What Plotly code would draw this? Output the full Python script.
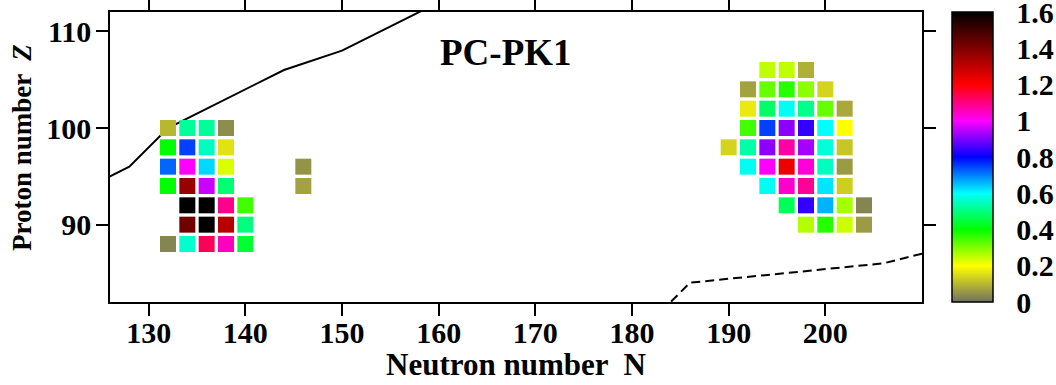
import plotly.graph_objects as go

# ---- data ----
nucl_N = [
    132, 134, 136, 138,
    132, 134, 136, 138,
    132, 134, 136, 138,
    132, 134, 136, 138,
    134, 136, 138, 140,
    134, 136, 138, 140,
    132, 134, 136, 138, 140,
    146, 146,
    194, 196, 198,
    192, 194, 196, 198, 200,
    192, 194, 196, 198, 200, 202,
    192, 194, 196, 198, 200, 202,
    190, 192, 194, 196, 198, 200, 202,
    192, 194, 196, 198, 200, 202,
    194, 196, 198, 200, 202,
    196, 198, 200, 202, 204,
    198, 200, 202, 204,
]
nucl_Z = [
    100, 100, 100, 100,
    98, 98, 98, 98,
    96, 96, 96, 96,
    94, 94, 94, 94,
    92, 92, 92, 92,
    90, 90, 90, 90,
    88, 88, 88, 88, 88,
    96, 94,
    106, 106, 106,
    104, 104, 104, 104, 104,
    102, 102, 102, 102, 102, 102,
    100, 100, 100, 100, 100, 100,
    98, 98, 98, 98, 98, 98, 98,
    96, 96, 96, 96, 96, 96,
    94, 94, 94, 94, 94,
    92, 92, 92, 92, 92,
    90, 90, 90, 90,
]
beta_val = [
    0.10, 0.52, 0.52, 0.04,
    0.40, 0.75, 0.55, 0.16,
    0.72, 1.00, 0.63, 0.23,
    0.40, 1.36, 0.96, 0.49,
    1.60, 1.60, 1.09, 0.35,
    1.42, 1.60, 1.31, 0.50,
    0.03, 0.56, 1.13, 1.05, 0.44,
    0.05, 0.07,
    0.25, 0.25, 0.09,
    0.07, 0.32, 0.37, 0.29, 0.14,
    0.17, 0.48, 0.59, 0.51, 0.32, 0.08,
    0.35, 0.75, 0.91, 0.84, 0.60, 0.20,
    0.14, 0.53, 0.91, 1.07, 0.93, 0.57, 0.12,
    0.59, 1.00, 1.23, 1.03, 0.55, 0.06,
    0.59, 1.04, 1.08, 0.62, 0.13,
    0.47, 0.84, 0.66, 0.27, 0.03,
    0.26, 0.37, 0.24, 0.06,
]

# proton drip line (solid) and neutron line (dashed)
drip_p_N = [124, 128, 132, 144, 150, 158, 160]
drip_p_Z = [94, 96, 100, 106, 108, 112, 113]
drip_n_N = [182, 186, 206, 210]
drip_n_Z = [80, 84, 86, 87]

cb_ticks = [0, 0.2, 0.4, 0.6, 0.8, 1.0, 1.2, 1.4, 1.6]
x_ticks = [130, 140, 150, 160, 170, 180, 190, 200]
y_ticks = [90, 100, 110]

# ---- style ----
FONT = "Liberation Serif"
cmin, cmax = 0.0, 1.6
colorscale = [
    [0.0, "rgb(112,112,96)"],
    [0.125, "rgb(255,255,0)"],
    [0.25, "rgb(0,255,0)"],
    [0.375, "rgb(0,255,255)"],
    [0.5, "rgb(0,0,255)"],
    [0.625, "rgb(255,0,255)"],
    [0.75, "rgb(255,0,0)"],
    [1.0, "rgb(0,0,0)"],
]

W, H = 1056, 385
ML, MR, MT, MB = 110, 134, 12, 83
plot_w = W - ML - MR
plot_h = H - MT - MB
cb_left_px = 952
cb_thick = 41
cb_x = (cb_left_px - ML) / plot_w
cb_x2 = (cb_left_px + cb_thick - ML) / plot_w

fig = go.Figure()

fig.add_trace(go.Scatter(
    x=drip_p_N, y=drip_p_Z, mode="lines",
    line=dict(color="black", width=2), showlegend=False, hoverinfo="skip"))
fig.add_trace(go.Scatter(
    x=drip_n_N, y=drip_n_Z, mode="lines",
    line=dict(color="black", width=2, dash="9px,5px"), showlegend=False, hoverinfo="skip"))

fig.add_trace(go.Scatter(
    x=nucl_N, y=nucl_Z, mode="markers", showlegend=False,
    marker=dict(
        symbol="square", size=16, color=beta_val, cmin=cmin, cmax=cmax,
        colorscale=colorscale, line=dict(width=0),
        colorbar=dict(
            x=cb_x, xanchor="left", xpad=0, y=0.5, yanchor="middle", ypad=0,
            len=1, lenmode="fraction", thickness=cb_thick,
            outlinewidth=1.5, outlinecolor="black",
            tickvals=cb_ticks, ticks="outside", ticklen=17,
            tickcolor="rgba(0,0,0,0)", ticklabeloverflow="allow",
            tickfont=dict(family=FONT, size=30, color="black", weight="bold"),
        ),
    ),
))

# inside ticks of the colour bar on both edges
shapes = []
tick_px = 10 / plot_w
for v in cb_ticks[1:-1]:
    yy = (v - cmin) / (cmax - cmin)
    shapes.append(dict(type="line", xref="paper", yref="paper",
                       x0=cb_x, x1=cb_x + tick_px, y0=yy, y1=yy,
                       line=dict(color="black", width=2)))
    shapes.append(dict(type="line", xref="paper", yref="paper",
                       x0=cb_x2 - tick_px, x1=cb_x2, y0=yy, y1=yy,
                       line=dict(color="black", width=2)))

axis_common = dict(
    showgrid=False, zeroline=False, showline=True, linecolor="black",
    linewidth=1.5, mirror="ticks", ticks="outside", ticklen=12,
    tickwidth=1.5, tickcolor="black",
    tickfont=dict(family=FONT, size=30, color="black", weight="bold"),
)

fig.update_layout(
    width=W, height=H,
    margin=dict(l=ML, r=MR, t=MT, b=MB, autoexpand=False),
    paper_bgcolor="white", plot_bgcolor="white",
    xaxis=dict(range=[126, 210], tickvals=x_ticks, automargin=False,
               ticklabelstandoff=-9, **axis_common),
    yaxis=dict(range=[82, 112], tickvals=y_ticks, automargin=False,
               ticklabelstandoff=-1, **axis_common),
    shapes=shapes,
    annotations=[
        dict(text="PC-PK1", xref="paper", yref="paper",
             x=(506 - ML) / plot_w, y=(H - MB - 52) / plot_h,
             xanchor="center", yanchor="middle", showarrow=False,
             font=dict(family=FONT, size=37, color="black", weight="bold")),
        dict(text="Neutron number  N", xref="paper", yref="paper",
             x=(516 - ML) / plot_w, y=(H - MB - 364) / plot_h,
             xanchor="center", yanchor="middle", showarrow=False,
             font=dict(family=FONT, size=31, color="black", weight="bold")),
        dict(text="Proton number  <i>Z</i>", xref="paper", yref="paper",
             x=(22 - ML) / plot_w, y=(H - MB - 148) / plot_h, textangle=-90,
             xanchor="center", yanchor="middle", showarrow=False,
             font=dict(family=FONT, size=27, color="black", weight="bold")),
    ],
)

fig.write_html("out.html")
